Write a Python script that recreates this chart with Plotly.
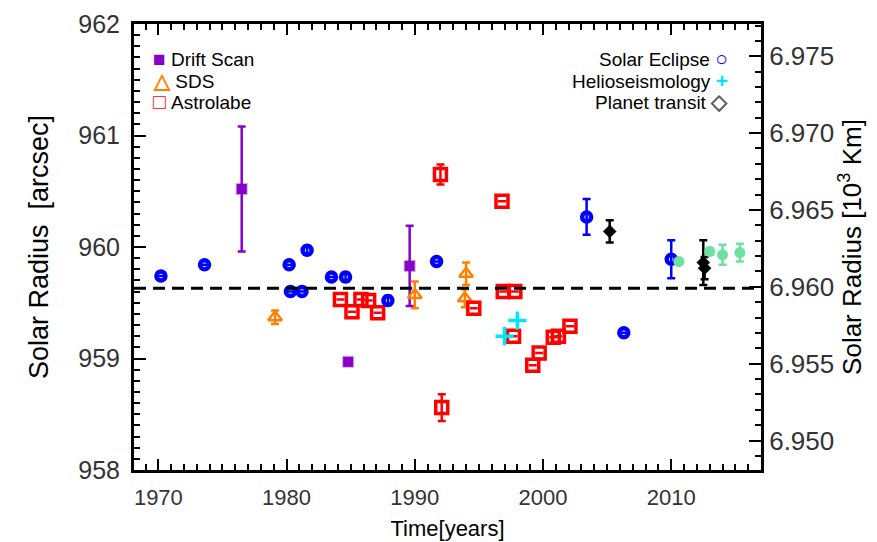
import plotly.graph_objects as go

# ---------------- data ----------------
K = 0.0072527          # 10^5 km per arcsec (right axis conversion)
mean_radius = 959.63   # dashed reference line [arcsec]

drift_x = [1976.5, 1984.8, 1989.6]
drift_y = [960.52, 958.97, 959.83]
drift_err = [0.56, 0.0, 0.36]

sds_x = [1979.1, 1990.0, 1993.9, 1994.0]
sds_y = [959.37, 959.57, 959.54, 959.76]
sds_err = [0.06, 0.12, 0.08, 0.10]

astro_x = [1984.2, 1985.1, 1985.8, 1986.4, 1987.1, 1992.0, 1992.1, 1994.6,
           1996.8, 1996.9, 1997.7, 1997.8, 1999.2, 1999.7, 2000.8, 2001.2, 2002.1]
astro_y = [959.53, 959.42, 959.53, 959.52, 959.41, 960.65, 958.56, 959.45,
           960.41, 959.60, 959.20, 959.60, 958.94, 959.05, 959.19, 959.20, 959.29]
astro_err = [0, 0, 0, 0, 0, 0.09, 0.12, 0, 0, 0, 0, 0, 0, 0, 0, 0, 0]

ecl_x = [1970.2, 1973.6, 1980.2, 1980.3, 1981.2, 1981.6, 1983.5, 1984.6,
         1987.9, 1991.7, 2003.4, 2006.3, 2010.0]
ecl_y = [959.74, 959.84, 959.84, 959.60, 959.60, 959.97, 959.73, 959.73,
         959.52, 959.87, 960.27, 959.23, 959.89]
ecl_err = [0, 0, 0, 0, 0, 0.04, 0, 0.04, 0.04, 0, 0.16, 0, 0.17]

helio_x = [1997.0, 1998.0]
helio_y = [959.20, 959.34]

transit_x = [2005.2, 2012.5, 2012.6]
transit_y = [960.14, 959.86, 959.81]
transit_err = [0.10, 0.20, 0.10]

space_x = [2010.6, 2013.0, 2014.0, 2015.35]
space_y = [959.87, 959.96, 959.93, 959.95]
space_err = [0.0, 0.03, 0.09, 0.08]

x_ticks = [1970, 1980, 1990, 2000, 2010]
y_ticks = [958, 959, 960, 961, 962]
y2_ticks = [6.950, 6.955, 6.960, 6.965, 6.970, 6.975]

# ---------------- styles ----------------
PURPLE = "rgb(136,0,204)"
ORANGE = "rgb(255,128,0)"
RED = "rgb(255,0,0)"
BLUE = "rgb(0,0,255)"
CYAN = "rgb(0,230,255)"
GREEN = "rgb(110,225,160)"
FONT = "Liberation Sans"


def errbar(vals, color):
    return dict(type="data", array=vals, visible=True, color=color,
                thickness=2.5, width=4)


fig = go.Figure()

fig.add_trace(go.Scatter(
    x=drift_x, y=drift_y, mode="markers", name="Drift Scan", showlegend=False,
    error_y=errbar(drift_err, PURPLE),
    marker=dict(symbol="square", size=10, color=PURPLE,
                line=dict(color="rgba(136,0,204,0.35)", width=2))))

fig.add_trace(go.Scatter(
    x=sds_x, y=sds_y, mode="markers", name="SDS", showlegend=False,
    error_y=errbar(sds_err, ORANGE),
    marker=dict(symbol="triangle-up-open", size=12, color=ORANGE,
                line=dict(color=ORANGE, width=2.5))))

fig.add_trace(go.Scatter(
    x=astro_x, y=astro_y, mode="markers", name="Astrolabe", showlegend=False,
    error_y=errbar(astro_err, RED),
    marker=dict(symbol="square-open", size=12, color=RED,
                line=dict(color=RED, width=3.5))))

fig.add_trace(go.Scatter(
    x=ecl_x, y=ecl_y, mode="markers", name="Solar Eclipse", showlegend=False,
    error_y=errbar(ecl_err, BLUE),
    marker=dict(symbol="circle-open", size=9, color=BLUE,
                line=dict(color=BLUE, width=4.5))))

fig.add_trace(go.Scatter(
    x=helio_x, y=helio_y, mode="markers", name="Helioseismology", showlegend=False,
    marker=dict(symbol="cross-thin-open", size=13, color=CYAN,
                line=dict(color=CYAN, width=3.5))))

fig.add_trace(go.Scatter(
    x=transit_x, y=transit_y, mode="markers", name="Planet transit", showlegend=False,
    error_y=errbar(transit_err, "black"),
    marker=dict(symbol="diamond", size=10, color="black",
                line=dict(color="rgba(0,0,0,0.5)", width=1))))

fig.add_trace(go.Scatter(
    x=space_x, y=space_y, mode="markers", name="Space", showlegend=False,
    error_y=errbar(space_err, GREEN),
    marker=dict(symbol="circle", size=11, color=GREEN)))

# same mean radius expressed in 10^3 km, anchors the right-hand axis (invisible)
fig.add_trace(go.Scatter(
    x=[x_ticks[0]], y=[mean_radius * K], yaxis="y2", mode="markers",
    marker=dict(opacity=0), showlegend=False, hoverinfo="skip"))

# mean radius dashed line
fig.add_shape(type="line", xref="paper", x0=0, x1=1, yref="y",
              y0=mean_radius, y1=mean_radius,
              line=dict(color="black", width=3, dash="12px,7px"))

# legends as text keys
left_legend = [
    ("Drift Scan", "■", PURPLE, 0.922),
    ("SDS", "△", ORANGE, 0.873),
    ("Astrolabe", "□", RED, 0.826),
]
for label, glyph, col, ypos in left_legend:
    fig.add_annotation(
        xref="paper", yref="paper", x=0.027, y=ypos, xanchor="left",
        yanchor="middle", showarrow=False,
        text=(f"<span style='color:{col};font-size:21px'><b>{glyph}</b></span>"
              f"&nbsp;{label}"),
        font=dict(family=FONT, size=19, color="black"))

right_legend = [
    ("Solar Eclipse", "○", BLUE, 0.922),
    ("Helioseismology", "+", CYAN, 0.873),
    ("Planet transit", "◇", "rgb(90,90,90)", 0.826),
]
for label, glyph, col, ypos in right_legend:
    fig.add_annotation(
        xref="paper", yref="paper", x=0.950, y=ypos, xanchor="right",
        yanchor="middle", showarrow=False,
        text=(f"{label}&nbsp;<span style='color:{col};font-size:21px'>"
              f"<b>{glyph}</b></span>"),
        font=dict(family=FONT, size=19, color="black"))

axis_common = dict(showline=True, linecolor="black", linewidth=3,
                   ticks="inside", tickcolor="black", tickwidth=2,
                   showgrid=False, zeroline=False, automargin=False,
                   ticklabeloverflow="allow")

fig.update_layout(
    width=877, height=542,
    margin=dict(l=126, r=124, t=16, b=80, autoexpand=False),
    paper_bgcolor="white", plot_bgcolor="white",
    font=dict(family=FONT, color="black"),
    showlegend=False,
    xaxis=dict(range=[1968.1, 2017.0], tickvals=x_ticks, ticklen=11,
               mirror="ticks",
               minor=dict(dtick=1, tick0=1970, ticklen=6, ticks="inside",
                          tickwidth=2, tickcolor="black"),
               tickfont=dict(size=22, color="#333"),
               ticklabelstandoff=6,
               title=dict(text="Time[years]", font=dict(size=22), standoff=12),
               **axis_common),
    yaxis=dict(range=[958, 962], tickvals=y_ticks, ticklen=12,
               minor=dict(dtick=0.1, tick0=958, ticklen=6, ticks="inside",
                          tickwidth=2, tickcolor="black"),
               tickfont=dict(size=25, color="#333"),
               ticklabelstandoff=6,
               title=dict(text="Solar Radius  [arcsec]", font=dict(size=27),
                          standoff=22),
               **axis_common),
    yaxis2=dict(range=[958 * K, 962 * K], overlaying="y", side="right",
                tickvals=y2_ticks, tickformat=".3f", ticklen=12,
                minor=dict(dtick=0.001, tick0=6.95, ticklen=6, ticks="inside",
                           tickwidth=2, tickcolor="black"),
                tickfont=dict(size=26, color="#333"),
                ticklabelstandoff=0,
                title=dict(text="Solar Radius [10<sup>3</sup> Km]",
                           font=dict(size=26), standoff=6),
                **axis_common),
)

fig.write_html("out.html")
